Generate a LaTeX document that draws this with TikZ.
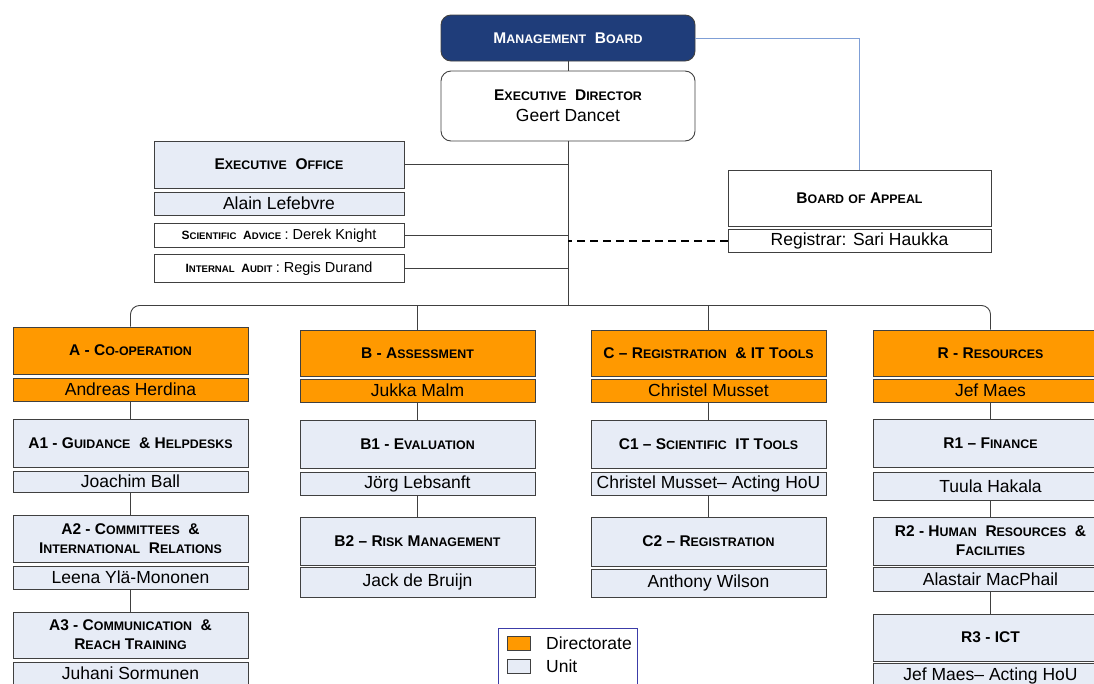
\documentclass[tikz,border=0pt]{standalone}
\usepackage{fontspec}
\setmainfont{Liberation Sans}
\definecolor{mbblue}{HTML}{1F3D7A}
\definecolor{dirorange}{HTML}{FF9900}
\definecolor{unitfill}{HTML}{E7ECF6}
\definecolor{linegray}{HTML}{404040}
\definecolor{appealblue}{HTML}{7F9FD6}
\definecolor{legblue}{HTML}{3C3CA8}
\makeatletter
\newcommand\capsc[2]{#1{\fontsize{\fpeval{0.8*\f@size}}{0}\selectfont #2}}
\makeatother
\newcommand\headfont{\bfseries\fontsize{15.5}{19}\selectfont}
\newcommand\namefont{\fontsize{17.5}{20}\selectfont}
\newcommand\rowfont{\bfseries\fontsize{12}{14}\selectfont}
\tikzset{
  box/.style={draw=linegray, line width=0.9pt, inner sep=0pt, align=center},
  dirhead/.style={box, fill=dirorange, minimum width=235pt, minimum height=46pt, font=\headfont},
  dirname/.style={box, fill=dirorange, minimum width=235pt, minimum height=23pt, font=\namefont},
  unithead/.style={box, fill=unitfill, minimum width=235pt, minimum height=48pt, font=\headfont},
  unitname/.style={box, fill=unitfill, minimum width=235pt, minimum height=23pt, font=\namefont},
  topbox/.style={box, rounded corners=10pt, minimum width=254pt},
  officebox/.style={box, minimum width=250pt},
  link/.style={draw=linegray, line width=0.9pt},
  swatch/.style={draw=linegray, line width=0.8pt, minimum width=23pt, minimum height=14pt, inner sep=0pt}
}
\begin{document}
\begin{tikzpicture}[x=1pt,y=-1pt]
    \useasboundingbox (0,0) rectangle (1094,683);
    \clip (0,0) rectangle (1094,683);

    % top of the tree
    \node [topbox, fill=mbblue, text=white, minimum height=46pt, font=\headfont] (mb) at (568,38) {\capsc{M}{ANAGEMENT}\ \ \capsc{B}{OARD}};
    \node [topbox, fill=white, minimum height=70pt, font=\headfont] (ed) at (568,106) {\capsc{E}{XECUTIVE}\ \ \capsc{D}{IRECTOR}\\[2pt]{\namefont\mdseries Geert Dancet}};
    \coordinate (bus) at (568,305.5);

    % staff around the director
    \node [officebox, fill=unitfill, minimum height=47pt, font=\headfont] (eo) at (279,164.5) {\capsc{E}{XECUTIVE}\ \ \capsc{O}{FFICE}};
    \node [officebox, fill=unitfill, minimum height=23pt, font=\namefont] (eoname) at (279,203.5) {Alain Lefebvre};
    \node [officebox, fill=white, minimum height=24pt, font=\rowfont] (sa) at (279,235.3) {\capsc{S}{CIENTIFIC}\ \ \capsc{A}{DVICE}\ {\mdseries\fontsize{14.5}{16}\selectfont : Derek Knight}};
    \node [officebox, fill=white, minimum height=28pt, font=\rowfont] (ia) at (279,268.5) {\capsc{I}{NTERNAL}\ \ \capsc{A}{UDIT}\ {\mdseries\fontsize{14.5}{16}\selectfont : Regis Durand}};
    \node [box, fill=white, minimum width=263pt, minimum height=56pt, font=\headfont] (boa) at (859.5,198) {\capsc{B}{OARD}\ \capsc{}{OF}\ \capsc{A}{PPEAL}};
    \node [box, fill=white, minimum width=263pt, minimum height=23pt, font=\namefont] (reg) at (859.5,240.5) {Registrar: Sari Haukka};

    % directorates
    \node [dirhead, minimum height=47pt] (adir) at (130.5,350.5) {A - \capsc{C}{O-OPERATION}};
    \node [dirname] (aname) at (130.5,389.5) {Andreas Herdina};
    \node [dirhead] (bdir) at (417.5,353) {B - \capsc{A}{SSESSMENT}};
    \node [dirname] (bname) at (417.5,390.5) {Jukka Malm};
    \node [dirhead] (cdir) at (708.5,353) {C -- \capsc{R}{EGISTRATION}\ \ \& IT \capsc{T}{OOLS}};
    \node [dirname] (cname) at (708.5,390.5) {Christel Musset};
    \node [dirhead] (rdir) at (990.5,353) {R - \capsc{R}{ESOURCES}};
    \node [dirname] (rname) at (990.5,390.5) {Jef Maes};

    % units A
    \node [unithead] (a1) at (130.5,443) {A1 - \capsc{G}{UIDANCE}\ \ \& \capsc{H}{ELPDESKS}};
    \node [unitname, minimum height=21pt] (a1name) at (130.5,481.5) {Joachim Ball};
    \node [unithead, minimum height=47pt] (a2) at (130.5,538.5) {A2 - \capsc{C}{OMMITTEES}\ \ \&\\\capsc{I}{NTERNATIONAL}\ \ \capsc{R}{ELATIONS}};
    \node [unitname] (a2name) at (130.5,577.5) {Leena Ylä-Mononen};
    \node [unithead, minimum height=46pt] (a3) at (130.5,635) {A3 - \capsc{C}{OMMUNICATION}\ \ \&\\\capsc{R}{EACH}\ \capsc{T}{RAINING}};
    \node [unitname] (a3name) at (130.5,673.5) {Juhani Sormunen};

    % units B
    \node [unithead] (b1) at (417.5,444) {B1 - \capsc{E}{VALUATION}};
    \node [unitname] (b1name) at (417.5,483.5) {Jörg Lebsanft};
    \node [unithead] (b2) at (417.5,541) {B2 -- \capsc{R}{ISK}\ \capsc{M}{ANAGEMENT}};
    \node [unitname, minimum height=30pt] (b2name) at (417.5,582) {Jack de Bruijn};

    % units C
    \node [unithead] (c1) at (708.5,444) {C1 -- \capsc{S}{CIENTIFIC}\ \ IT \capsc{T}{OOLS}};
    \node [unitname] (c1name) at (708.5,483.5) {Christel Musset-- Acting HoU};
    \node [unithead, minimum height=49pt] (c2) at (708.5,541.5) {C2 -- \capsc{R}{EGISTRATION}};
    \node [unitname, minimum height=28pt] (c2name) at (708.5,583) {Anthony Wilson};

    % units R
    \node [unithead] (r1) at (990.5,443) {R1 -- \capsc{F}{INANCE}};
    \node [unitname, minimum height=28pt] (r1name) at (990.5,486) {Tuula Hakala};
    \node [unithead] (r2) at (990.5,541) {R2 - \capsc{H}{UMAN}\ \ \capsc{R}{ESOURCES}\ \ \&\\\capsc{F}{ACILITIES}};
    \node [unitname, minimum height=24pt] (r2name) at (990.5,579) {Alastair MacPhail};
    \node [unithead, minimum height=47pt] (r3) at (990.5,637.5) {R3 - ICT};
    \node [unitname, minimum height=26pt] (r3name) at (990.5,676) {Jef Maes-- Acting HoU};

    % legend
    \node [draw=legblue, line width=0.9pt, minimum width=139pt, minimum height=62pt, inner sep=0pt] (legend) at (567.5,659) {};
    \node [swatch, fill=dirorange] (legdir) at (518.5,643.5) {};
    \node [anchor=west, font=\namefont, inner sep=0pt] (legdirtext) at (546,643.5) {Directorate};
    \node [swatch, fill=unitfill] (legunit) at (518.5,666.5) {};
    \node [anchor=west, font=\namefont, inner sep=0pt] (legunittext) at (546,666.5) {Unit};

    % connectors
    \path [link] (mb.south) -- (ed.north);
    \path [link] (ed.south) -- (bus);
    \path [link] (eo.east) -- (eo.east -| bus);
    \path [link] (sa.east) -- (sa.east -| bus);
    \path [link] (ia.east) -- (ia.east -| bus);
    \path [draw=black, line width=2pt, dash pattern=on 8pt off 5pt] (reg.west) -- (reg.west -| bus);
    \path [draw=appealblue, line width=0.9pt] (mb.east) -| (boa.north);
    \path [link, rounded corners=9pt] (adir.north) |- (bus) -| (rdir.north);
    \path [link] (bdir.north) -- (bdir.north |- bus);
    \path [link] (cdir.north) -- (cdir.north |- bus);
    \path [link] (aname.south) -- (a1.north);
    \path [link] (a1name.south) -- (a2.north);
    \path [link] (a2name.south) -- (a3.north);
    \path [link] (bname.south) -- (b1.north);
    \path [link] (b1name.south) -- (b2.north);
    \path [link] (cname.south) -- (c1.north);
    \path [link] (c1name.south) -- (c2.north);
    \path [link] (rname.south) -- (r1.north);
    \path [link] (r1name.south) -- (r2.north);
    \path [link] (r2name.south) -- (r3.north);
\end{tikzpicture}
\end{document}
